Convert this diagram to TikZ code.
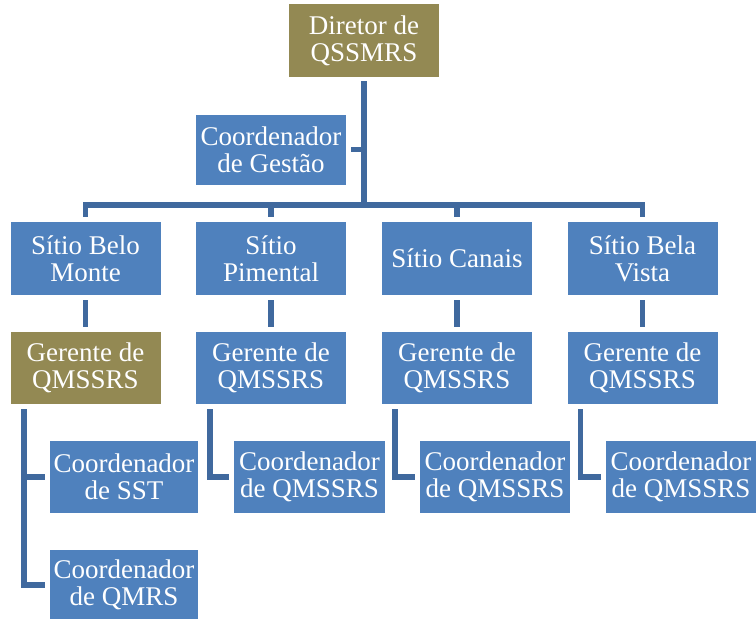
\documentclass[tikz,border=0pt]{standalone}
\usepackage{fontspec}
\setmainfont{Liberation Serif}
\definecolor{boxblue}{HTML}{4F81BD}
\definecolor{boxolive}{HTML}{938953}
\definecolor{linkblue}{HTML}{40699E}
\begin{document}
\begin{tikzpicture}[x=1pt,y=-1pt,
  box/.style={rectangle, fill=boxblue, text=white, inner sep=0pt, align=center,
    minimum width=150pt, minimum height=73pt,
    font=\fontsize{27}{27}\selectfont},
  olivebox/.style={box, fill=boxolive},
  conn/.style={draw=linkblue, line width=5.5pt, line join=miter}]
\useasboundingbox (0,0) rectangle (756,619);
% top
\node[olivebox] (dir) at (364,40.5) {Diretor de\\QSSMRS};
\node[box, minimum height=70pt] (gest) at (271,149.5) {Coordenador\\de Gestão};
% sites
\node[box] (s1) at (85.5,258.5) {Sítio Belo\\Monte};
\node[box] (s2) at (271,258.5) {Sítio\\Pimental};
\node[box] (s3) at (457,258.5) {Sítio Canais};
\node[box] (s4) at (642.5,258.5) {Sítio Bela\\Vista};
% managers
\node[olivebox, minimum height=72pt] (g1) at (85.5,368) {Gerente de\\QMSSRS};
\node[box, minimum height=72pt] (g2) at (271,368) {Gerente de\\QMSSRS};
\node[box, minimum height=72pt] (g3) at (457,368) {Gerente de\\QMSSRS};
\node[box, minimum height=72pt] (g4) at (642.5,368) {Gerente de\\QMSSRS};
% coordinators
\node[box, minimum width=148pt, minimum height=72pt] (c1) at (124,477) {Coordenador\\de SST};
\node[box, minimum width=148pt, minimum height=70pt] (c1b) at (124,585) {Coordenador\\de QMRS};
\node[box, minimum width=151pt, minimum height=72pt] (c2) at (309.5,477) {Coordenador\\de QMSSRS};
\node[box, minimum height=72pt] (c3) at (495,477) {Coordenador\\de QMSSRS};
\node[box, minimum height=72pt] (c4) at (681,477) {Coordenador\\de QMSSRS};
% bus
\coordinate (bus) at (364,205);
\draw[conn] ([yshift=-4pt]dir.south) -- (bus);
\draw[conn] ([xshift=5pt]gest.east) -- (bus |- gest.east);
\draw[conn, shorten >=5pt] (bus) -| (s1.north);
\draw[conn, shorten >=5pt] (bus) -| (s4.north);
\draw[conn, shorten >=5pt] (s2.north |- bus) -- (s2.north);
\draw[conn, shorten >=5pt] (s3.north |- bus) -- (s3.north);
% site to manager
\foreach \i in {1,2,3,4}{
  \draw[conn, shorten <=5pt, shorten >=5pt] (s\i.south) -- (g\i.north);
}
% manager to coordinators
\draw[conn, shorten >=5pt] ([xshift=13.5pt,yshift=-5pt]g1.south west) |- (c1.west);
\draw[conn, shorten >=5pt] ([xshift=13.5pt,yshift=-5pt]g1.south west) |- (c1b.west);
\draw[conn, shorten >=5pt] ([xshift=14pt,yshift=-5pt]g2.south west) |- (c2.west);
\draw[conn, shorten >=5pt] ([xshift=13pt,yshift=-5pt]g3.south west) |- (c3.west);
\draw[conn, shorten >=5pt] ([xshift=13pt,yshift=-5pt]g4.south west) |- (c4.west);
\end{tikzpicture}
\end{document}
